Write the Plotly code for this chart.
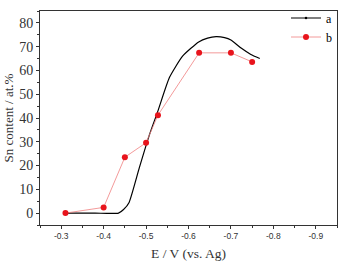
import plotly.graph_objects as go

# Series a (continuous curve)
a_E = [-0.31, -0.38, -0.435, -0.447, -0.46, -0.484, -0.508, -0.528, -0.555, -0.586, -0.624, -0.645, -0.665, -0.685, -0.7, -0.724, -0.747, -0.768]
a_sn = [0, 0, 0, 1.5, 4.5, 19, 33, 43, 57, 66, 72, 73.6, 74.2, 73.8, 72.8, 69.4, 66.7, 65]

# Series b (measured points)
b_E = [-0.31, -0.4, -0.45, -0.5, -0.528, -0.625, -0.7, -0.75]
b_sn = [0, 2.4, 23.5, 29.6, 41.2, 67.4, 67.4, 63.6]

x_ticks = [-0.3, -0.4, -0.5, -0.6, -0.7, -0.8, -0.9]
y_ticks = [0, 10, 20, 30, 40, 50, 60, 70, 80]

serif = "Liberation Serif, Times New Roman, serif"
sans = "Liberation Sans, Arial, sans-serif"

fig = go.Figure()
fig.add_trace(go.Scatter(
    x=a_E, y=a_sn, name="a", mode="lines", showlegend=False,
    line=dict(color="black", width=1.2, shape="spline", smoothing=0.5),
))
fig.add_trace(go.Scatter(
    x=[None], y=[None], name="a", mode="lines+markers",
    line=dict(color="black", width=1.2),
    marker=dict(size=2.5, color="black"),
))
fig.add_trace(go.Scatter(
    x=b_E, y=b_sn, name="b", mode="lines+markers",
    line=dict(color="#f08080", width=0.8),
    marker=dict(size=6, color="#e8141c"),
))

fig.update_layout(
    width=340, height=262,
    margin=dict(l=40, r=3, t=3, b=37),
    paper_bgcolor="white", plot_bgcolor="white",
    showlegend=True,
    legend=dict(x=1.0, y=1.035, xanchor="right", yanchor="top",
                font=dict(family=serif, size=12, color="black"),
                bgcolor="rgba(0,0,0,0)", itemwidth=30, tracegroupgap=0),
    xaxis=dict(
        range=[-0.25, -0.95], tickvals=x_ticks,
        ticktext=[f"{v:.1f}" for v in x_ticks],
        showline=True, linecolor="#333", linewidth=1, mirror=True,
        ticks="outside", ticklen=3, tickcolor="#333",
        minor=dict(ticks="outside", ticklen=2, dtick=0.05, tickcolor="#333"),
        showgrid=False, zeroline=False,
        tickfont=dict(family=sans, size=8.5, color="#333"),
        title=dict(text="E / V (vs. Ag)", font=dict(family=serif, size=13.5, color="#333"), standoff=8),
    ),
    yaxis=dict(
        range=[-5, 85], tickvals=y_ticks,
        showline=True, linecolor="#333", linewidth=1, mirror=True,
        ticks="outside", ticklen=3, tickcolor="#333",
        minor=dict(ticks="outside", ticklen=2, dtick=5, tickcolor="#333"),
        showgrid=False, zeroline=False,
        tickfont=dict(family=serif, size=14, color="#333"),
        title=dict(text="Sn content / at.%", font=dict(family=serif, size=13, color="#333"), standoff=2),
    ),
)

fig.write_html("out.html")
